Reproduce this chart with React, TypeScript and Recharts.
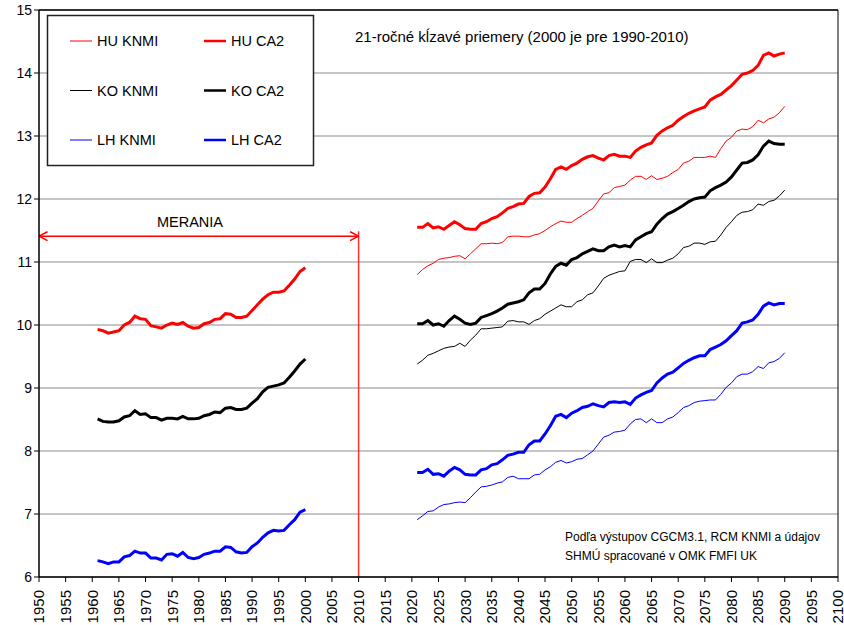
import React from 'react';
import { LineChart, Line, XAxis, YAxis, CartesianGrid, ReferenceLine } from 'recharts';

const histStart = 1961;
const futStart = 2021;

const xTicks = [1950,1955,1960,1965,1970,1975,1980,1985,1990,1995,2000,2005,2010,2015,2020,2025,2030,2035,2040,2045,2050,2055,2060,2065,2070,2075,2080,2085,2090,2095,2100];
const yTicks = [6,7,8,9,10,11,12,13,14,15];

const huCa2Hist = [9.93,9.91,9.87,9.89,9.91,10.00,10.04,10.14,10.10,10.09,9.99,9.97,9.95,10.00,10.03,10.01,10.04,9.98,9.95,9.96,10.02,10.04,10.09,10.10,10.18,10.17,10.12,10.12,10.14,10.23,10.32,10.41,10.48,10.52,10.52,10.54,10.63,10.73,10.85,10.91];
const koCa2Hist = [8.51,8.47,8.46,8.46,8.48,8.54,8.56,8.64,8.58,8.59,8.53,8.53,8.49,8.52,8.52,8.51,8.55,8.51,8.51,8.52,8.56,8.58,8.62,8.61,8.68,8.69,8.66,8.66,8.68,8.76,8.83,8.94,9.01,9.03,9.05,9.08,9.17,9.27,9.38,9.46];
const lhCa2Hist = [6.26,6.24,6.21,6.24,6.24,6.32,6.34,6.41,6.38,6.38,6.30,6.30,6.27,6.36,6.37,6.33,6.39,6.31,6.29,6.31,6.36,6.38,6.41,6.41,6.48,6.47,6.40,6.38,6.39,6.48,6.54,6.63,6.70,6.74,6.73,6.74,6.83,6.91,7.03,7.07];

const huCa2Fut = [11.55,11.55,11.61,11.54,11.56,11.52,11.58,11.64,11.59,11.53,11.52,11.52,11.61,11.64,11.69,11.72,11.78,11.85,11.88,11.92,11.93,12.04,12.09,12.10,12.19,12.32,12.47,12.51,12.47,12.53,12.57,12.63,12.67,12.69,12.65,
  12.62,12.69,12.71,12.68,12.68,12.66,12.76,12.82,12.86,12.89,13.01,13.08,13.13,13.17,13.25,13.31,13.36,13.40,13.43,13.46,13.57,13.62,13.66,13.73,13.80,13.89,13.98,14.00,14.04,14.12,14.28,14.32,14.27,14.30,14.32];
const huKnmiFut = [10.80,10.88,10.94,10.98,11.04,11.06,11.07,11.09,11.10,11.05,11.13,11.21,11.29,11.29,11.30,11.29,11.31,11.40,11.41,11.41,11.40,11.40,11.43,11.45,11.50,11.56,11.61,11.65,11.63,11.63,11.69,11.74,11.80,11.85,11.97,
  12.08,12.10,12.18,12.20,12.22,12.30,12.36,12.36,12.31,12.37,12.31,12.33,12.36,12.42,12.47,12.57,12.60,12.66,12.66,12.66,12.68,12.66,12.80,12.92,12.98,13.08,13.11,13.10,13.15,13.25,13.21,13.27,13.30,13.37,13.47];
const koCa2Fut = [10.02,10.02,10.07,10.00,10.02,9.98,10.07,10.14,10.09,10.03,10.01,10.03,10.12,10.15,10.18,10.22,10.27,10.33,10.35,10.37,10.40,10.51,10.57,10.57,10.66,10.81,10.93,10.98,10.95,11.04,11.07,11.13,11.17,11.21,11.18,
  11.18,11.24,11.27,11.24,11.26,11.24,11.35,11.40,11.45,11.48,11.60,11.69,11.76,11.80,11.85,11.90,11.96,12.00,12.02,12.03,12.13,12.18,12.22,12.27,12.35,12.46,12.57,12.58,12.62,12.70,12.84,12.92,12.88,12.87,12.87];
const koKnmiFut = [9.38,9.44,9.52,9.55,9.59,9.63,9.65,9.66,9.71,9.66,9.76,9.84,9.94,9.94,9.95,9.96,9.97,10.06,10.07,10.05,10.05,10.01,10.07,10.10,10.17,10.22,10.27,10.32,10.29,10.29,10.37,10.40,10.48,10.51,10.62,
  10.74,10.79,10.82,10.85,10.86,11.01,11.04,11.04,10.99,11.05,10.99,10.99,11.03,11.06,11.13,11.23,11.25,11.30,11.30,11.28,11.32,11.33,11.43,11.55,11.64,11.74,11.79,11.80,11.83,11.92,11.90,11.96,11.98,12.05,12.14];
const lhCa2Fut = [7.66,7.66,7.71,7.63,7.64,7.60,7.68,7.74,7.70,7.63,7.62,7.62,7.70,7.72,7.78,7.80,7.86,7.93,7.95,7.98,7.98,8.10,8.16,8.16,8.27,8.40,8.55,8.58,8.53,8.60,8.64,8.69,8.71,8.75,8.72,
  8.70,8.77,8.78,8.77,8.78,8.74,8.84,8.89,8.93,8.96,9.08,9.16,9.22,9.25,9.32,9.39,9.44,9.48,9.51,9.51,9.61,9.65,9.69,9.75,9.83,9.91,10.03,10.05,10.08,10.17,10.30,10.35,10.32,10.34,10.34];
const lhKnmiFut = [6.91,6.97,7.04,7.05,7.11,7.15,7.16,7.18,7.19,7.18,7.26,7.35,7.43,7.44,7.46,7.49,7.51,7.58,7.60,7.56,7.56,7.56,7.62,7.63,7.70,7.75,7.82,7.85,7.81,7.83,7.87,7.88,7.94,8.00,8.11,
  8.22,8.25,8.30,8.31,8.33,8.43,8.50,8.51,8.45,8.51,8.45,8.45,8.51,8.54,8.61,8.69,8.72,8.77,8.79,8.80,8.81,8.81,8.90,9.01,9.08,9.18,9.22,9.22,9.26,9.34,9.31,9.40,9.42,9.47,9.56];

const seriesNames = ['HU KNMI', 'HU CA2', 'KO KNMI', 'KO CA2', 'LH KNMI', 'LH CA2'];

const pick = (hist: number[] | null, fut: number[], year: number) => {
  if (hist && year >= histStart && year < histStart + hist.length) return hist[year - histStart];
  if (year >= futStart && year < futStart + fut.length) return fut[year - futStart];
  return null;
};

const data: any[] = [];
for (let y = histStart; y <= futStart + huCa2Fut.length - 1; y++) {
  data.push({
    year: y,
    huKnmi: pick(null, huKnmiFut, y),
    huCa2: pick(huCa2Hist, huCa2Fut, y),
    koKnmi: pick(null, koKnmiFut, y),
    koCa2: pick(koCa2Hist, koCa2Fut, y),
    lhKnmi: pick(null, lhKnmiFut, y),
    lhCa2: pick(lhCa2Hist, lhCa2Fut, y),
  });
}

const FONT = '"Liberation Sans", Arial, sans-serif';

const XTick = (props: any) => {
  const { x, y, payload } = props;
  const ty = y + 6;
  return (
    <text x={x} y={ty} transform={`rotate(-90 ${x} ${ty})`} textAnchor="end" dy="0.36em"
      fontSize={15} fontFamily={FONT} fill="#000">{payload.value}</text>
  );
};

const YTick = (props: any) => {
  const { x, y, payload } = props;
  return (
    <text x={x} y={y} textAnchor="end" dy="0.36em" fontSize={14} fontFamily={FONT} fill="#000">{payload.value}</text>
  );
};

const legendItems = [
  { name: seriesNames[0], color: '#ff0000', w: 1, col: 0, row: 0 },
  { name: seriesNames[1], color: '#ff0000', w: 3, col: 1, row: 0 },
  { name: seriesNames[2], color: '#000000', w: 1, col: 0, row: 1 },
  { name: seriesNames[3], color: '#000000', w: 3, col: 1, row: 1 },
  { name: seriesNames[4], color: '#0000ff', w: 1, col: 0, row: 2 },
  { name: seriesNames[5], color: '#0000ff', w: 3, col: 1, row: 2 },
];

export default function App() {
  return (
    <div style={{ position: 'absolute', left: 0, top: 0, width: 844, height: 625, background: '#fff' }}>
      <LineChart width={844} height={625} data={data} margin={{ top: 10, right: 6, bottom: 0, left: 0 }}>
        <CartesianGrid horizontal={true} vertical={false} stroke="#8c8c8c" strokeWidth={1.2} />
        <XAxis dataKey="year" type="number" domain={[1950, 2100]} ticks={xTicks} interval={0}
          height={48} tick={<XTick />} tickSize={5} stroke="#000" axisLine={{ stroke: '#000', strokeWidth: 1.5 }}
          tickLine={{ stroke: '#000' }} allowDataOverflow />
        <YAxis type="number" domain={[6, 15]} ticks={yTicks} interval={0} width={39}
          tick={<YTick />} tickSize={5} axisLine={{ stroke: '#000', strokeWidth: 1.5 }} tickLine={{ stroke: '#000' }} allowDataOverflow />
        <ReferenceLine y={15} stroke="#000" strokeWidth={1.5} />
        <ReferenceLine x={2100} stroke="#000" strokeWidth={1} />
        <ReferenceLine segment={[{ x: 2010, y: 6 }, { x: 2010, y: 11.49 }]} stroke="#ff3030" strokeWidth={1.5} />
        <ReferenceLine segment={[{ x: 1950, y: 11.41 }, { x: 2010, y: 11.41 }]} stroke="#ff0000" strokeWidth={1.5} />
        <ReferenceLine segment={[{ x: 1950, y: 11.41 }, { x: 1951.6, y: 11.48 }]} stroke="#ff0000" strokeWidth={1.5} />
        <ReferenceLine segment={[{ x: 1950, y: 11.41 }, { x: 1951.6, y: 11.34 }]} stroke="#ff0000" strokeWidth={1.5} />
        <ReferenceLine segment={[{ x: 2010, y: 11.41 }, { x: 2008.4, y: 11.48 }]} stroke="#ff0000" strokeWidth={1.5} />
        <ReferenceLine segment={[{ x: 2010, y: 11.41 }, { x: 2008.4, y: 11.34 }]} stroke="#ff0000" strokeWidth={1.5} />
        <Line dataKey="huKnmi" name={seriesNames[0]} stroke="#ff0000" strokeWidth={1} dot={false} isAnimationActive={false} type="linear" />
        <Line dataKey="huCa2" name={seriesNames[1]} stroke="#ff0000" strokeWidth={3} dot={false} isAnimationActive={false} type="linear" />
        <Line dataKey="koKnmi" name={seriesNames[2]} stroke="#000000" strokeWidth={1} dot={false} isAnimationActive={false} type="linear" />
        <Line dataKey="koCa2" name={seriesNames[3]} stroke="#000000" strokeWidth={3} dot={false} isAnimationActive={false} type="linear" />
        <Line dataKey="lhKnmi" name={seriesNames[4]} stroke="#0000ff" strokeWidth={1} dot={false} isAnimationActive={false} type="linear" />
        <Line dataKey="lhCa2" name={seriesNames[5]} stroke="#0000ff" strokeWidth={3} dot={false} isAnimationActive={false} type="linear" />
      </LineChart>
      <svg width={844} height={625} style={{ position: 'absolute', left: 0, top: 0, pointerEvents: 'none' }}>
        <rect x={47.5} y={15.5} width={266} height={150} fill="#fff" stroke="#222" strokeWidth={1.5} />
        {legendItems.map((it) => {
          const lx = it.col === 0 ? 70 : 204;
          const ly = 41 + it.row * 49.5;
          return (
            <g key={it.name}>
              <line x1={lx} x2={lx + 22} y1={ly} y2={ly} stroke={it.color} strokeWidth={it.w === 1 ? 1 : 2.5} />
              <text x={lx + 27} y={ly} dy="0.36em" fontSize={14.5} fontFamily={FONT} fill="#000">{it.name}</text>
            </g>
          );
        })}
        <text x={355} y={37} dy="0.36em" fontSize={15} fontFamily={FONT} fill="#000">21-ročné kĺzavé priemery (2000 je pre 1990-2010)</text>
        <text x={190} y={222} dy="0.36em" textAnchor="middle" fontSize={14.5} fontFamily={FONT} fill="#000">MERANIA</text>
        <text x={565} y={537} dy="0.36em" fontSize={12} fontFamily={FONT} fill="#000">Podľa výstupov CGCM3.1, RCM KNMI a údajov</text>
        <text x={565} y={556} dy="0.36em" fontSize={12} fontFamily={FONT} fill="#000">SHMÚ spracované v OMK FMFI UK</text>
      </svg>
    </div>
  );
}
